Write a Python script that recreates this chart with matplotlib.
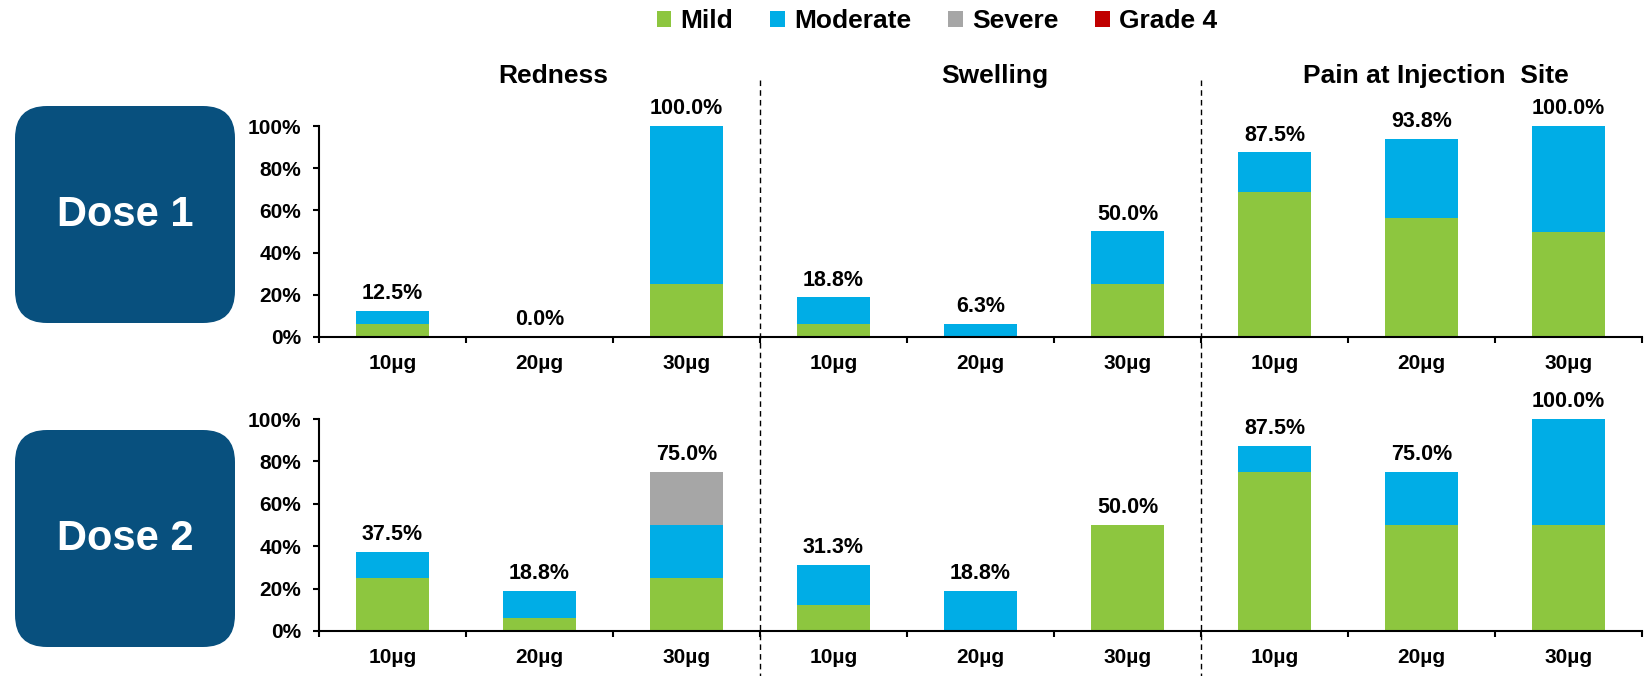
import numpy as np
import matplotlib
matplotlib.use("Agg")
import matplotlib.pyplot as plt
from matplotlib.patches import Patch, FancyBboxPatch
from matplotlib.lines import Line2D
import matplotlib.transforms as mtransforms

plt.rcParams['font.family'] = ['Liberation Sans', 'DejaVu Sans']
plt.rcParams['font.weight'] = 'bold'

# categories
measures = ["Redness", "Swelling", "Pain at Injection  Site"]
doses = ["10µg", "20µg", "30µg"]
panels = ["Dose 1", "Dose 2"]
grades = ["Mild", "Moderate", "Severe", "Grade 4"]
colors = ["#8DC63F", "#00ADE6", "#A6A6A6", "#C00000"]

# percent of subjects, 9 bars per row (measure x dose)
mild_d1 = [6.25, 0, 25, 6.25, 0, 25, 68.75, 56.25, 50]
mod_d1 = [6.25, 0, 75, 12.5, 6.25, 25, 18.75, 37.5, 50]
sev_d1 = [0, 0, 0, 0, 0, 0, 0, 0, 0]
g4_d1 = [0, 0, 0, 0, 0, 0, 0, 0, 0]

mild_d2 = [25, 6.25, 25, 12.5, 0, 50, 75, 50, 50]
mod_d2 = [12.5, 12.5, 25, 18.75, 18.75, 0, 12.5, 25, 50]
sev_d2 = [0, 0, 25, 0, 0, 0, 0, 0, 0]
g4_d2 = [0, 0, 0, 0, 0, 0, 0, 0, 0]

yticks = [0, 20, 40, 60, 80, 100]
ytick_labels = ["0%", "20%", "40%", "60%", "80%", "100%"]

rows = [[mild_d1, mod_d1, sev_d1, g4_d1], [mild_d2, mod_d2, sev_d2, g4_d2]]

W, H = 1648, 676
fig = plt.figure(figsize=(W / 100, H / 100), dpi=100)

# axes geometry in pixels (top of 100% / bottom of 0%)
ax_left, ax_right = 319, 1642
ax_rows = [(126, 337), (419, 631)]
box_rows = [(106, 323), (430, 647)]

xlabels = doses * len(measures)
n = len(xlabels)
x = np.arange(n) + 0.5

axes = []
for r, series in enumerate(rows):
    top, bot = ax_rows[r]
    ax = fig.add_axes([ax_left / W, 1 - bot / H, (ax_right - ax_left) / W, (bot - top) / H])
    axes.append(ax)
    bottom = np.zeros(n)
    for vals, c in zip(series, colors):
        vals = np.array(vals, dtype=float)
        ax.bar(x, vals, width=0.5, bottom=bottom, color=c, edgecolor='none', zorder=2)
        bottom += vals
    for xi, t in zip(x, bottom):
        lab = "%.1f%%" % (np.floor(t * 10 + 0.5) / 10)
        ax.annotate(lab, (xi, t), xytext=(0, 8.5), textcoords='offset points',
                    ha='center', va='baseline', fontsize=15.5, fontweight='bold',
                    annotation_clip=False)
    ax.set_xlim(0, n)
    ax.set_ylim(0, 100)
    ax.set_yticks(yticks)
    ax.set_yticklabels(ytick_labels)
    ax.set_xticks(x)
    ax.set_xticklabels(xlabels)
    ax.set_xticks(np.arange(n + 1), minor=True)
    ax.tick_params(axis='x', which='major', length=0, pad=12.5, labelsize=15)
    ax.tick_params(axis='x', which='minor', length=4.5, width=1.5, direction='out')
    ax.tick_params(axis='y', length=4.5, width=1.5, pad=8.5, labelsize=15)
    for s in ['top', 'right']:
        ax.spines[s].set_visible(False)
    for s in ['left', 'bottom']:
        ax.spines[s].set_linewidth(1.5)
    for lbl in ax.get_xticklabels() + ax.get_yticklabels():
        lbl.set_fontweight('bold')

    # dose box
    btop, bbot = box_rows[r]
    bax = fig.add_axes([15 / W, 1 - bbot / H, 220 / W, (bbot - btop) / H])
    bax.set_xlim(0, 220)
    bax.set_ylim(0, bbot - btop)
    bax.axis('off')
    bax.add_patch(FancyBboxPatch((0, 0), 220, bbot - btop,
                                 boxstyle="round,pad=0,rounding_size=32",
                                 facecolor="#08507E", edgecolor='none'))
    bax.text(110, (bbot - btop) / 2, panels[r], color='white', fontsize=30,
             fontweight='bold', ha='center', va='center')

# section titles and dashed separators
top_ax = axes[0]
trans = mtransforms.blended_transform_factory(top_ax.transData, fig.transFigure)
for i, m in enumerate(measures):
    top_ax.annotate(m, (i * 3 + 1.5, 1 - 83 / H), xycoords=trans, xytext=(10, 0),
                    textcoords='offset points', ha='center', va='baseline',
                    fontsize=19, fontweight='bold', annotation_clip=False)
for k in [3, 6]:
    fig.add_artist(Line2D([k, k], [1 - 80 / H, 0], transform=trans, color='black',
                          linewidth=1, dashes=(4, 3)))

handles = [Patch(facecolor=c, edgecolor='none') for c in colors]
fig.legend(handles, grades, ncol=4, loc='center', bbox_to_anchor=(937 / W, 1 - 21 / H),
           frameon=False, fontsize=19, handlelength=0.55, handleheight=0.55,
           handletextpad=0.35, columnspacing=1.4, borderpad=0, borderaxespad=0)

fig.savefig("out.png", dpi=100)
